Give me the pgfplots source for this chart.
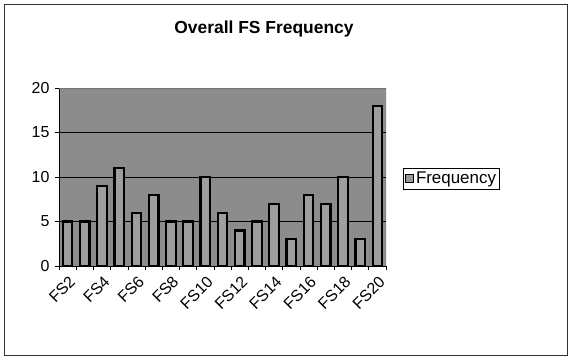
\documentclass[border=0pt]{standalone}
\usepackage{fontspec}
\setmainfont{Liberation Sans}
\usepackage{pgfplots}
\pgfplotsset{compat=1.18}
\begin{document}
\begin{tikzpicture}[x=1bp,y=1bp]
\useasboundingbox (0,0) rectangle (569,358);
\draw[black!80, line width=0.8bp] (4,3) rectangle (567,354);
\node[font=\fontsize{17.5}{20}\selectfont\bfseries] at (264,329) {Overall FS Frequency};
\begin{axis}[
  at={(59bp,92bp)}, anchor=south west,
  scale only axis, width=327bp, height=178bp,
  xmin=-0.5, xmax=18.5, ymin=0, ymax=20,
  axis x line*=bottom, axis y line*=left,
  axis line style={black, line width=0.8bp},
  axis background/.style={fill=black!45},
  ybar, bar width=9.5bp,
  xtick={0,2,...,18},
  xticklabels={FS2,FS4,FS6,FS8,FS10,FS12,FS14,FS16,FS18,FS20},
  minor xtick={-0.5,0.5,...,18.5},
  major x tick style={draw=none},
  minor tick length=4bp, major tick length=4bp,
  tick align=outside,
  tick style={black, line width=0.6bp},
  ytick={0,5,10,15,20},
  ymajorgrids, grid style={black, line width=0.6bp},
  /pgf/number format/assume math mode=true,
  ticklabel style={font=\fontsize{16}{19}\selectfont},
  xticklabel style={rotate=45, anchor=north east, inner sep=1bp, xshift=-2bp, yshift=-3bp},
  yticklabel style={xshift=-2bp},
  legend style={at={(1.052,0.49)}, anchor=west, draw=black, line width=0.6bp,
    font=\fontsize{17}{20}\selectfont, inner sep=1.5bp, row sep=0pt},
  legend image code/.code={\draw[#1, line width=1.2bp, fill=black!40] (0bp,-4bp) rectangle (8bp,4bp);},
]
\draw[black!55, line width=0.6bp] (rel axis cs:0,1) -- (rel axis cs:1,1) -- (rel axis cs:1,0);
\addplot[draw=black, line width=2.2bp, fill=black!38] coordinates {
(0,5) (1,5) (2,9) (3,11) (4,6) (5,8) (6,5) (7,5) (8,10) (9,6)
(10,4) (11,5) (12,7) (13,3) (14,8) (15,7) (16,10) (17,3) (18,18)};
\addlegendentry{Frequency}
\end{axis}
\end{tikzpicture}
\end{document}
